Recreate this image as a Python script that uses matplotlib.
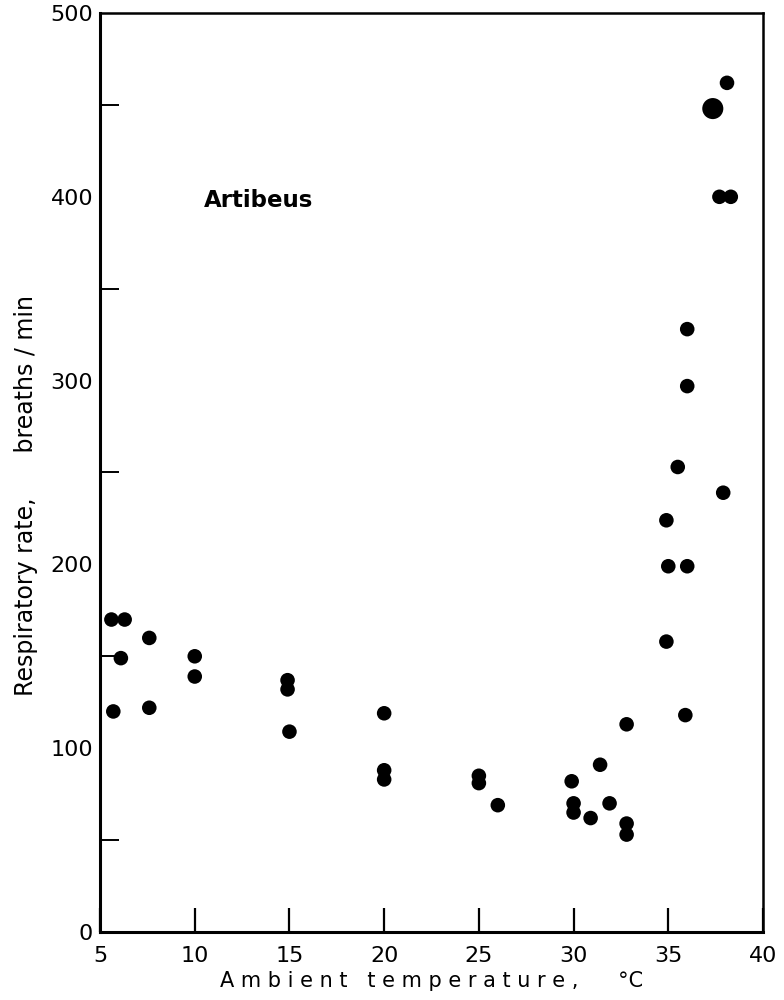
import matplotlib
matplotlib.use("Agg")
import matplotlib.pyplot as plt
from matplotlib.ticker import MultipleLocator

# respiratory rate of Artibeus against ambient temperature
temps = [5.6, 6.3, 6.1, 5.7, 7.6, 7.6, 10.0, 10.0, 14.9, 14.9, 15.0,
         20.0, 20.0, 20.0, 25.0, 25.0, 26.0, 29.9, 30.0, 30.0, 30.9,
         31.4, 31.9, 32.8, 32.8, 32.8, 34.9, 34.9, 35.0, 36.0, 35.9,
         35.5, 36.0, 36.0, 37.9, 37.7, 38.3, 38.1, 37.35]
rates = [170, 170, 149, 120, 160, 122, 150, 139, 137, 132, 109,
         119, 88, 83, 85, 81, 69, 82, 70, 65, 62,
         91, 70, 113, 59, 53, 158, 224, 199, 199, 118,
         253, 297, 328, 239, 400, 400, 462, 448]
# the last point is drawn larger (overlapping observations)
dot_sizes = [110] * (len(temps) - 1) + [230]

x_ticks = [5, 10, 15, 20, 25, 30, 35, 40]
y_ticks = [0, 100, 200, 300, 400, 500]

plt.rcParams['font.family'] = 'DejaVu Sans'

fig = plt.figure(figsize=(7.84, 10), dpi=100)
ax = fig.add_axes([0.1276, 0.068, 0.8456, 0.919])

ax.scatter(temps, rates, s=dot_sizes, c='black', edgecolors='none', zorder=3)

ax.set_xlim(5, 40)
ax.set_ylim(0, 500)
ax.set_xticks(x_ticks)
ax.set_yticks(y_ticks)
ax.yaxis.set_minor_locator(MultipleLocator(50))

ax.tick_params(axis='both', which='major', direction='in',
               width=1.6, labelsize=16, color='black')
ax.tick_params(axis='y', which='minor', direction='in', length=14, width=1.4)
ax.tick_params(axis='y', which='major', length=19, pad=5)
ax.tick_params(axis='x', which='major', length=17, pad=10)

# no tick marks at the ends of the axes
for t in ax.xaxis.get_major_ticks():
    if t.get_loc() in (5, 40):
        t.tick1line.set_visible(False)
for t in ax.yaxis.get_major_ticks():
    if t.get_loc() in (0, 500):
        t.tick1line.set_visible(False)

for side in ['left', 'bottom']:
    ax.spines[side].set_linewidth(2.2)
for side in ['top', 'right']:
    ax.spines[side].set_linewidth(1.8)

ax.text(10.5, 398, 'Artibeus', fontsize=16.5, fontweight='bold',
        ha='left', va='center')

ax.set_xlabel('A m b i e n t   t e m p e r a t u r e ,      °C',
              fontsize=15, labelpad=4)
ax.set_ylabel('Respiratory rate,      breaths / min', fontsize=17)
ax.yaxis.set_label_coords(-0.094, 0.475)

fig.savefig('out.png', dpi=100)
